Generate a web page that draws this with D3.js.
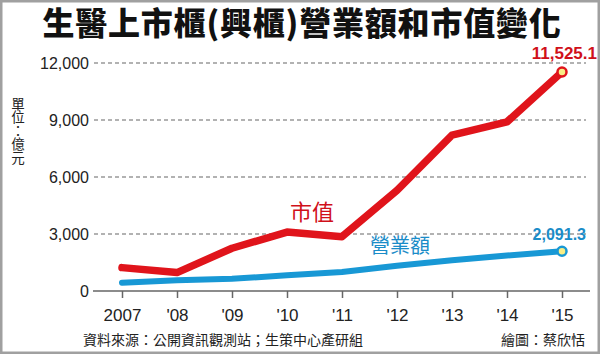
<!DOCTYPE html>
<html>
<head>
<meta charset="utf-8">
<script src="https://cdn.jsdelivr.net/npm/d3@7"></script>
<style>
body { margin: 0; background: #fff; }
svg { display: block; }
</style>
</head>
<body>
<script>
var w = 600,
h = 354,
cjk = "'Noto Sans CJK TC', 'Noto Sans', sans-serif",
latin = "'Liberation Sans', Arial, sans-serif";

// data
var years = ["2007", "'08", "'09", "'10", "'11", "'12", "'13", "'14", "'15"];
var marketValue = [1230, 970, 2250, 3100, 2860, 5300, 8200, 8900, 11525.1];
var revenue = [440, 560, 640, 830, 1000, 1330, 1620, 1870, 2091.3];
var yTicks = [0, 3000, 6000, 9000, 12000];

var svg = d3.select("body").append("svg")
.attr("width", w)
.attr("height", h);

// frame
svg.append("rect")
.attr("x", 1).attr("y", 1)
.attr("width", w - 2).attr("height", h - 2)
.attr("fill", "#fff")
.attr("stroke", "#a0a0a0")
.attr("stroke-width", 3);

// title
svg.append("text")
.attr("x", 302).attr("y", 35)
.attr("text-anchor", "middle")
.style("font-family", cjk)
.style("font-weight", 900)
.style("font-size", "32px")
.style("letter-spacing", "0.8px")
.attr("fill", "#111")
.text("生醫上市櫃(興櫃)營業額和市值變化");

var x = d3.scalePoint()
.domain(years)
.range([122, 562]);

var y = d3.scaleLinear()
.domain([0, 12000])
.range([291, 63]);

// grid lines
svg.append("g")
.selectAll("line")
.data(yTicks.slice(1))
.join("line")
.attr("x1", 94).attr("x2", 586)
.attr("y1", d => y(d)).attr("y2", d => y(d))
.attr("stroke", "#666")
.attr("stroke-width", 1.2)
.attr("stroke-dasharray", "4,3");

// y labels
svg.append("g")
.selectAll("text")
.data(yTicks)
.join("text")
.attr("x", 89)
.attr("y", d => y(d) + 6)
.attr("text-anchor", "end")
.style("font-family", latin)
.style("font-size", "16px")
.attr("fill", "#222")
.text(d3.format(","));

// x axis
var xAxis = svg.append("g")
.attr("transform", "translate(0," + y(0) + ")")
.call(d3.axisBottom(x).tickSize(7).tickPadding(11));
xAxis.select(".domain").attr("d", "M93,0H590").attr("stroke", "#666").attr("stroke-width", 1.5);
xAxis.selectAll(".tick line").attr("stroke", "#666").attr("stroke-width", 1.5);
xAxis.selectAll(".tick text")
.style("font-family", latin)
.style("font-size", "17px")
.attr("fill", "#222");

// unit label (vertical)
svg.append("text")
.attr("x", 18).attr("y", 97)
.style("writing-mode", "vertical-rl")
.style("font-family", cjk)
.style("font-size", "13.5px")
.attr("fill", "#222")
.text("單位：億元");

var line = d3.line()
.x((d, i) => x(years[i]))
.y(d => y(d));

function drawSeries(values, color, width) {
    svg.append("path")
    .datum(values)
    .attr("d", line)
    .attr("fill", "none")
    .attr("stroke", color)
    .attr("stroke-width", width)
    .attr("stroke-linecap", "round")
    .attr("stroke-linejoin", "round");

    var last = values.length - 1;
    svg.append("circle")
    .attr("cx", x(years[last]))
    .attr("cy", y(values[last]))
    .attr("r", 4.5)
    .attr("fill", "#f8ee86")
    .attr("stroke", color)
    .attr("stroke-width", 2.5);
}

drawSeries(revenue, "#1898d5", 6);
drawSeries(marketValue, "#e0141b", 7.5);

// value labels
svg.append("text")
.attr("x", 597).attr("y", 59)
.attr("text-anchor", "end")
.style("font-family", latin)
.style("font-weight", "bold")
.style("font-size", "17px")
.attr("fill", "#d0101a")
.text(d3.format(",.1f")(marketValue[marketValue.length - 1]));

svg.append("text")
.attr("x", 586).attr("y", 240)
.attr("text-anchor", "end")
.style("font-family", latin)
.style("font-weight", "bold")
.style("font-size", "16px")
.attr("fill", "#1a8cc8")
.text(d3.format(",.1f")(revenue[revenue.length - 1]));

// series labels
svg.append("text")
.attr("x", 290).attr("y", 220)
.style("font-family", cjk)
.style("font-size", "22px")
.attr("fill", "#d0101a")
.text("市值");

svg.append("text")
.attr("x", 370).attr("y", 253)
.style("font-family", cjk)
.style("font-size", "20px")
.attr("fill", "#1a8cc8")
.text("營業額");

// footer
svg.append("text")
.attr("x", 83).attr("y", 345)
.style("font-family", cjk)
.style("font-size", "14px")
.attr("fill", "#222")
.text("資料來源：公開資訊觀測站；生策中心產研組");

svg.append("text")
.attr("x", 585).attr("y", 345)
.attr("text-anchor", "end")
.style("font-family", cjk)
.style("font-size", "14px")
.attr("fill", "#222")
.text("繪圖：蔡欣恬");
</script>
</body>
</html>
